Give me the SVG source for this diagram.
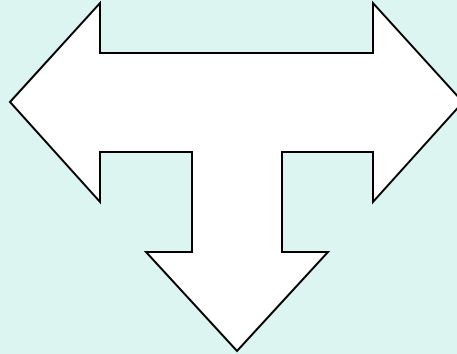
<svg xmlns="http://www.w3.org/2000/svg" width="457" height="354" viewBox="0 0 457 354">
<style>
.bg{fill:#dcf5f0}
.arrow{fill:#ffffff;stroke:#000000;stroke-width:2;stroke-linejoin:miter}
</style>
<rect class="bg" x="0" y="0" width="457" height="354"/>
<g id="t-arrow">
<path class="arrow" d="M10,102 L100,3 L100,53 L373,53 L373,3 L463,102 L373,202 L373,152 L282,152 L282,252 L328,252 L237,351 L146,252 L192,252 L192,152 L100,152 L100,202 Z"/>
</g>
<g id="connectors"></g>
</svg>
